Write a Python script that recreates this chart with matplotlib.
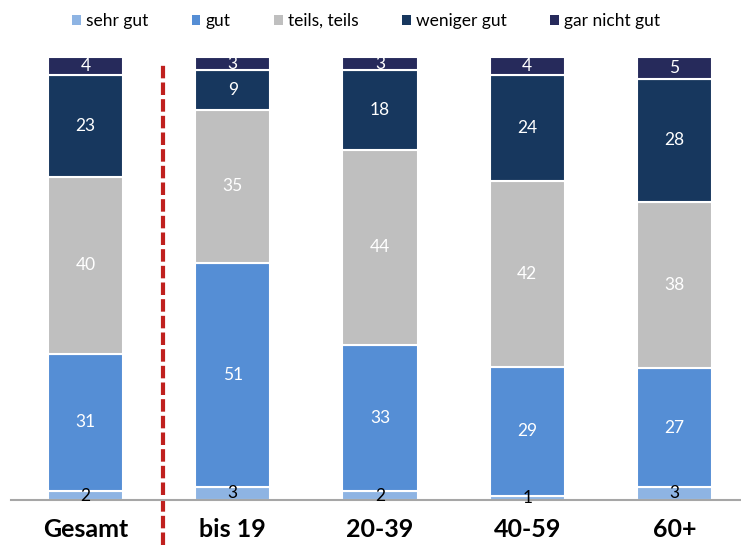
import matplotlib
matplotlib.use("Agg")
import matplotlib.pyplot as plt
from matplotlib.patches import Patch
import numpy as np

plt.rcParams['font.family'] = ['Lato', 'DejaVu Sans']

categories = ["Gesamt", "bis 19", "20-39", "40-59", "60+"]
series_names = ["sehr gut", "gut", "teils, teils", "weniger gut", "gar nicht gut"]
sehr_gut = [2, 3, 2, 1, 3]
gut = [31, 51, 33, 29, 27]
teils = [40, 35, 44, 42, 38]
weniger_gut = [23, 9, 18, 24, 28]
gar_nicht_gut = [4, 3, 3, 4, 5]

colors = ["#8EB4E3", "#558ED5", "#BFBFBF", "#17375E", "#262A5B"]
text_colors = ["black", "white", "white", "white", "white"]

all_series = [sehr_gut, gut, teils, weniger_gut, gar_nicht_gut]
# 100% stacked: rounded values don't always add to 100
totals = np.sum(np.array(all_series, dtype=float), axis=0)

fig = plt.figure(figsize=(7.41, 5.45), dpi=100)
ax = fig.add_axes([11 / 741, 45 / 545, 730 / 741, 443 / 545])

x = np.arange(len(categories))
bottom = np.zeros(len(categories))
for vals, name, col, tcol in zip(all_series, series_names, colors, text_colors):
    vals = np.array(vals, dtype=float)
    heights = vals / totals * 100
    ax.bar(x, heights, 0.51, bottom=bottom, color=col, edgecolor="white",
           linewidth=1.5, label=name, zorder=2)
    for xi, v, h, b in zip(x, vals, heights, bottom):
        ax.text(xi, b + h / 2, f"{int(v)}", ha="center", va="center",
                color=tcol, fontsize=12.5, zorder=3)
    bottom += heights

ax.set_xlim(-0.506, 4.452)
ax.set_ylim(0, 100)

# separator between total and age groups
ax.plot([0.526, 0.526], [-10.2, 98.2], color="#C0201E", linewidth=3,
        linestyle=(0, (3, 1)), clip_on=False, zorder=1)

for side in ["top", "right", "left"]:
    ax.spines[side].set_visible(False)
ax.spines["bottom"].set_color("#A6A6A6")
ax.spines["bottom"].set_linewidth(1.5)
ax.set_yticks([])
ax.set_xticks(x)
ax.set_xticklabels(categories, fontsize=18, fontweight="bold")
ax.tick_params(axis="x", length=0, pad=13)

handles = [Patch(facecolor=c, edgecolor="none") for c in colors]
fig.legend(handles, series_names, loc="center", bbox_to_anchor=(366 / 741, 1 - 21 / 545),
           ncol=5, frameon=False, fontsize=12.5, handlelength=0.5, handleheight=0.5,
           handletextpad=0.3, columnspacing=2.5)

fig.savefig("out.png", dpi=100)
